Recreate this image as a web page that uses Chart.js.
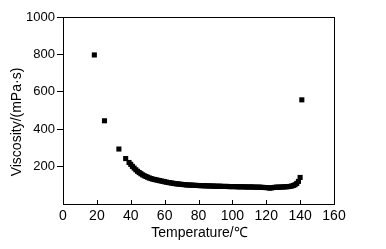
<!DOCTYPE html>
<html>
<head>
<meta charset="utf-8">
<script src="https://cdn.jsdelivr.net/npm/chart.js@4"></script>
<style>
    html, body { margin: 0; padding: 0; background: #fff; }
    canvas { display: block; }
</style>
</head>
<body>
<canvas id="chart" width="386" height="249"></canvas>
<script>
const temperature = [
    18.5, 24.5, 33, 37,
    39, 40, 41, 42, 43, 44, 45, 46, 47, 48, 49,
    50, 51, 52, 53, 54, 55, 56, 57, 58, 59,
    60, 61, 62, 63, 64, 65, 66, 67, 68, 69,
    70, 71, 72, 73, 74, 75, 76, 77, 78, 79,
    80, 81, 82, 83, 84, 85, 86, 87, 88, 89,
    90, 91, 92, 93, 94, 95, 96, 97, 98, 99,
    100, 101, 102, 103, 104, 105, 106, 107, 108, 109,
    110, 111, 112, 113, 114, 115, 116, 117, 118, 119,
    120, 121, 122, 123, 124, 125, 126, 127, 128, 129,
    130, 131, 132, 133, 134, 135, 136, 137, 138, 139,
    140, 141
];

const viscosity = [
    797, 445, 294, 243,
    222, 212, 201, 192, 183, 175, 168, 162, 156, 151, 147,
    143, 139, 136, 133, 131, 129, 127, 125, 123, 121,
    119, 117, 115, 114, 112, 111, 109, 108, 107, 106,
    105, 104, 103, 102, 102, 101, 101, 100, 100, 99,
    99, 98, 98, 98, 97, 97, 97, 96, 96, 96,
    95, 95, 95, 95, 94, 94, 94, 94, 93, 93,
    93, 93, 93, 92, 92, 92, 92, 92, 91, 91,
    91, 91, 91, 90, 90, 90, 90, 89, 89, 88,
    88, 87, 85, 86, 88, 89, 90, 90, 90, 91,
    91, 92, 92, 93, 94, 96, 99, 103, 110, 121,
    142, 557
];

const xTitle = 'Temperature/\u2103';
const yTitle = 'Viscosity/(mPa\u00b7s)';
const FONT = "'Liberation Sans', Arial, sans-serif";

// frame, inward x ticks and the two axis titles
const framePlugin = {
    id: 'frame',
    afterDraw: (chart) => {
        const { ctx, chartArea: a, scales } = chart;
        ctx.save();
        ctx.strokeStyle = '#000';
        ctx.lineWidth = 1;
        ctx.strokeRect(a.left + 0.5, a.top + 0.5, a.right - a.left, a.bottom - a.top);

        ctx.beginPath();
        scales.x.ticks.forEach(t => {
            const px = Math.round(scales.x.getPixelForValue(t.value)) + 0.5;
            ctx.moveTo(px, a.bottom);
            ctx.lineTo(px, a.bottom - 4);
        });
        ctx.stroke();

        ctx.fillStyle = '#000';
        ctx.font = '14px ' + FONT;
        ctx.textAlign = 'center';
        ctx.textBaseline = 'middle';
        ctx.fillText(xTitle, (a.left + a.right) / 2 + 1, 233);

        ctx.translate(17, 122);
        ctx.rotate(-Math.PI / 2);
        ctx.fillText(yTitle, 0, 0);
        ctx.restore();
    }
};

new Chart(document.getElementById('chart'), {
    type: 'scatter',
    data: {
        datasets: [{
            data: temperature.map((t, i) => ({ x: t, y: viscosity[i] })),
            pointStyle: 'rect',
            pointRadius: 3.6,
            pointHoverRadius: 3.6,
            backgroundColor: '#000',
            borderColor: '#000',
            borderWidth: 0
        }]
    },
    options: {
        responsive: false,
        animation: false,
        devicePixelRatio: 1,
        layout: { padding: { left: 0, top: 17, right: 52, bottom: 0 } },
        plugins: { legend: { display: false }, tooltip: { enabled: false } },
        scales: {
            x: {
                type: 'linear',
                min: 0,
                max: 160,
                afterFit: (s) => { s.height = 45; },
                grid: { display: false, drawTicks: false },
                border: { display: false },
                ticks: {
                    stepSize: 20,
                    padding: 4,
                    color: '#000',
                    maxRotation: 0,
                    font: { family: FONT, size: 14 }
                }
            },
            y: {
                min: 0,
                max: 1000,
                afterFit: (s) => { s.width = 63; },
                grid: {
                    drawOnChartArea: false,
                    tickLength: 6,
                    color: (c) => (c.tick && c.tick.value === 0 ? 'rgba(0,0,0,0)' : '#000')
                },
                border: { display: false },
                ticks: {
                    stepSize: 200,
                    padding: 2,
                    color: '#000',
                    font: { family: FONT, size: 13 },
                    callback: (v) => (v === 0 ? '' : v)
                }
            }
        }
    },
    plugins: [framePlugin]
});
</script>
</body>
</html>
